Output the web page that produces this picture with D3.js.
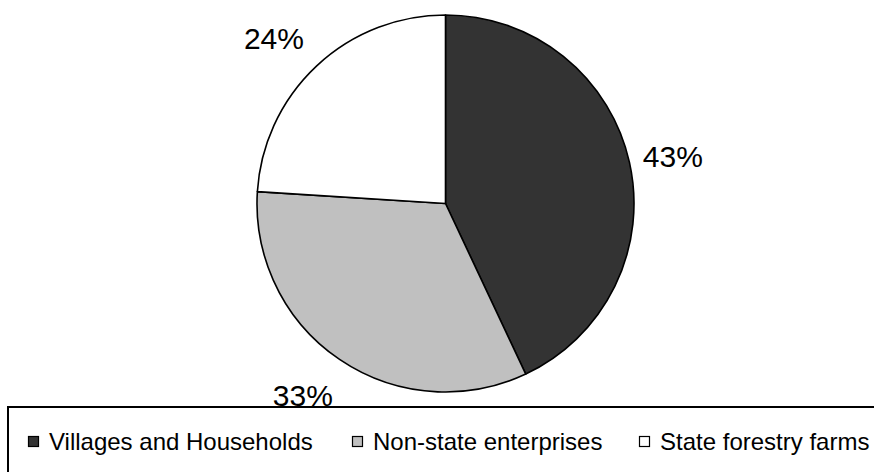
<!DOCTYPE html>
<html>
<head>
<meta charset="utf-8">
<script src="https://cdn.jsdelivr.net/npm/d3@7"></script>
<style>
  html, body { margin: 0; padding: 0; background: #fff; }
  svg { display: block; font-family: Arial, "Liberation Sans", sans-serif; }
</style>
</head>
<body>
<svg id="chart" width="874" height="472"></svg>
<script>
const categories = ["Villages and Households", "Non-state enterprises", "State forestry farms"];
const values = [43, 33, 24];
const labels = ["43%", "33%", "24%"];
const colors = ["#333333", "#c0c0c0", "#ffffff"];

const svg = d3.select("#chart");
const cx = 445.5, cy = 203.5, r = 188.5;

const pie = d3.pie().sort(null).value(d => d)(values);
const arc = d3.arc().innerRadius(0).outerRadius(r);
const labelArc = d3.arc().innerRadius(236).outerRadius(236);
// small placement nudges (Excel "outside end" style placement)
const nudge = [[-3, 4], [-10, -4], [-10, 7]];

const g = svg.append("g").attr("transform", `translate(${cx},${cy})`);
g.selectAll("path").data(pie).join("path")
  .attr("d", arc)
  .attr("fill", (d, i) => colors[i])
  .attr("stroke", "#000")
  .attr("stroke-width", 1.6)
  .attr("stroke-linejoin", "round");

g.selectAll("text").data(pie).join("text")
  .attr("transform", (d, i) => {
    const c = labelArc.centroid(d);
    return `translate(${c[0] + nudge[i][0]},${c[1] + nudge[i][1]})`;
  })
  .attr("text-anchor", "middle")
  .attr("dy", "0.36em")
  .attr("font-size", 30)
  .attr("fill", "#000")
  .text((d, i) => labels[i]);

// Legend box
svg.append("rect")
  .attr("x", 8).attr("y", 407)
  .attr("width", 900).attr("height", 100)
  .attr("fill", "none").attr("stroke", "#000").attr("stroke-width", 2);

const legendX = [28, 352, 639];
const leg = svg.append("g");
categories.forEach((c, i) => {
  leg.append("rect")
    .attr("x", legendX[i] + 0.5).attr("y", 436.5)
    .attr("width", 10).attr("height", 10)
    .attr("fill", colors[i]).attr("stroke", "#000").attr("stroke-width", 1.2);
  leg.append("text")
    .attr("x", legendX[i] + 21).attr("y", 449.5)
    .attr("font-size", 24)
    .attr("fill", "#000")
    .text(c);
});
</script>
</body>
</html>
